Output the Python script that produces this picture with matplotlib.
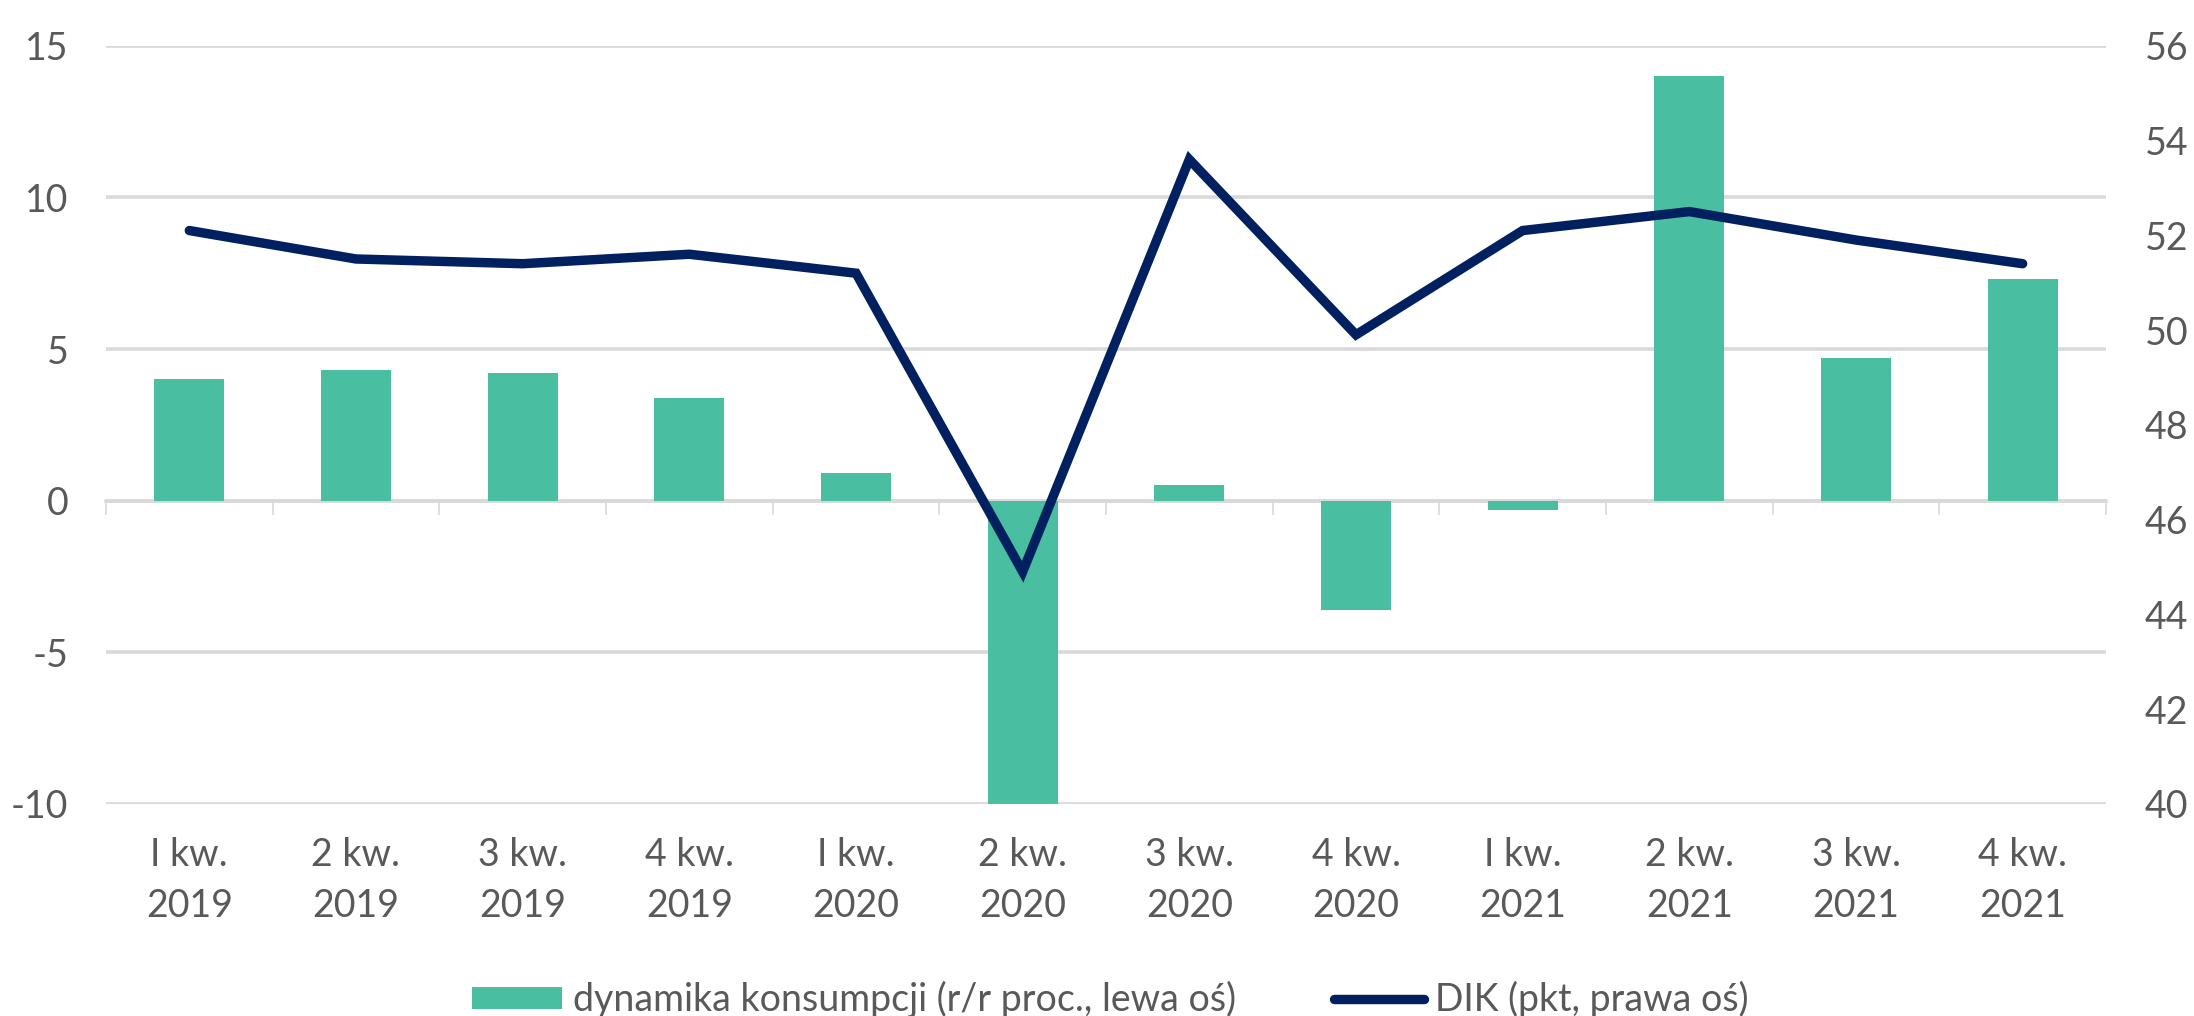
import numpy as np
import matplotlib
matplotlib.use("Agg")
import matplotlib.pyplot as plt

plt.rcParams['font.family'] = ['Lato', 'DejaVu Sans']

# dane
kwartaly = ["I kw.\n2019", "2 kw.\n2019", "3 kw.\n2019", "4 kw.\n2019",
            "I kw.\n2020", "2 kw.\n2020", "3 kw.\n2020", "4 kw.\n2020",
            "I kw.\n2021", "2 kw.\n2021", "3 kw.\n2021", "4 kw.\n2021"]
konsumpcja = [4.0, 4.3, 4.2, 3.4, 0.9, -10.0, 0.5, -3.6, -0.3, 14.0, 4.7, 7.3]
dik = [52.1, 51.5, 51.4, 51.6, 51.2, 44.9, 53.6, 49.9, 52.1, 52.5, 51.9, 51.4]
lewa_ticks = [-10, -5, 0, 5, 10, 15]
prawa_ticks = [40, 42, 44, 46, 48, 50, 52, 54, 56]

ZIELONY = "#49bea0"
GRANAT = "#002060"
SZARY = "#d9d9d9"
TEKST = "#595959"
FS = 27

fig = plt.figure(figsize=(21.94, 10.16), dpi=100)
ax = fig.add_axes([0.0483, 0.2087, 0.9116, 0.7463])

x = np.arange(len(kwartaly))
slupki = ax.bar(x, konsumpcja, width=0.42, color=ZIELONY, zorder=2,
                label="dynamika konsumpcji (r/r proc., lewa oś)")

ax.set_xlim(-0.5, len(kwartaly) - 0.5)
ax.set_ylim(lewa_ticks[0], lewa_ticks[-1])
ax.set_yticks(lewa_ticks)
ax.set_yticklabels([str(t) for t in lewa_ticks])
ax.set_xticks(x)
ax.set_xticklabels(kwartaly, linespacing=1.5)
ax.tick_params(axis='x', length=0, pad=24, labelsize=FS, labelcolor=TEKST)
ax.tick_params(axis='y', length=0, pad=27, labelsize=FS, labelcolor=TEKST)
ax.yaxis.grid(True, color=SZARY, linewidth=2.6)
ax.set_axisbelow(True)
for s in ax.spines.values():
    s.set_visible(False)

# os X na poziomie zera z kreskami miedzy kwartalami
poz0 = (0 - lewa_ticks[0]) / (lewa_ticks[-1] - lewa_ticks[0])
osx = ax.secondary_xaxis(poz0)
osx.set_xticks(np.arange(-0.5, len(kwartaly), 1))
osx.set_xticklabels([])
osx.tick_params(axis='x', direction='out', length=10, width=1.2, color=SZARY)
for s in osx.spines.values():
    s.set_color(SZARY)
    s.set_linewidth(2.6)

# prawa os - DIK
ax2 = ax.twinx()
linia, = ax2.plot(x, dik, color=GRANAT, linewidth=6.8, solid_capstyle='round',
                  solid_joinstyle='miter', zorder=3, label="DIK (pkt, prawa oś)")
ax2.set_ylim(prawa_ticks[0], prawa_ticks[-1])
ax2.set_yticks(prawa_ticks)
ax2.tick_params(axis='y', length=0, pad=28, labelsize=FS, labelcolor=TEKST)
for s in ax2.spines.values():
    s.set_visible(False)

fig.legend([slupki, linia], [slupki.get_label(), linia.get_label()],
           loc='center', bbox_to_anchor=(0.506, 0.016), ncol=2, frameon=False,
           fontsize=FS, labelcolor=TEKST, handlelength=2.4, handleheight=0.53,
           handletextpad=0.3, columnspacing=2.6, borderpad=0, borderaxespad=0)

fig.savefig("out.png", dpi=100, facecolor="white")
